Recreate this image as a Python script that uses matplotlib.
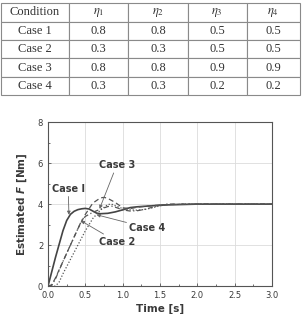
import matplotlib

matplotlib.use("Agg")
import matplotlib.pyplot as plt
from matplotlib.ticker import FormatStrFormatter, MultipleLocator

# --- table data --------------------------------------------------------
TABLE_HEADER = ["Condition", r"$\eta_1$", r"$\eta_2$", r"$\eta_3$", r"$\eta_4$"]
CASES = ["Case 1", "Case 2", "Case 3", "Case 4"]
ETA1 = [0.8, 0.3, 0.8, 0.3]
ETA2 = [0.8, 0.3, 0.8, 0.3]
ETA3 = [0.5, 0.5, 0.9, 0.2]
ETA4 = [0.5, 0.5, 0.9, 0.2]

# --- curve data ---------------------------------------------------------
T1 = [0, 0.05, 0.1, 0.15, 0.2, 0.25, 0.3, 0.35, 0.4, 0.45, 0.5, 0.55, 0.6,
      0.65, 0.7, 0.8, 0.9, 1.0, 1.1, 1.2, 1.4, 1.6, 1.8, 2.0, 2.5, 3.0]
F1 = [0, 0.7, 1.4, 2.05, 2.7, 3.2, 3.5, 3.65, 3.73, 3.77, 3.79, 3.76, 3.66,
      3.56, 3.53, 3.55, 3.62, 3.72, 3.83, 3.87, 3.92, 3.96, 3.98, 4.0, 4.0, 4.0]

T2 = [0, 0.05, 0.1, 0.2, 0.3, 0.4, 0.45, 0.5, 0.6, 0.7, 0.8, 0.85, 0.9,
      1.0, 1.1, 1.2, 1.3, 1.4, 1.5, 1.6, 2.0, 3.0]
F2 = [0, 0.05, 0.35, 1.2, 2.0, 2.8, 3.2, 3.4, 3.6, 3.75, 3.88, 3.9, 3.85,
      3.72, 3.66, 3.68, 3.75, 3.85, 3.95, 4.0, 4.0, 4.0]

T3 = [0, 0.05, 0.1, 0.2, 0.3, 0.4, 0.5, 0.6, 0.7, 0.75, 0.8, 0.9, 1.0,
      1.1, 1.2, 1.4, 1.6, 2.0, 3.0]
F3 = [0, 0.05, 0.4, 1.2, 2.0, 2.8, 3.5, 4.05, 4.3, 4.33, 4.28, 4.08, 3.82,
      3.78, 3.85, 3.93, 3.98, 4.0, 4.0]

T4 = [0, 0.1, 0.15, 0.2, 0.3, 0.4, 0.5, 0.6, 0.65, 0.7, 0.8, 0.85, 0.9,
      1.0, 1.1, 1.2, 1.3, 1.4, 1.5, 1.6, 2.0, 3.0]
F4 = [0, 0, 0.2, 0.6, 1.3, 2.0, 2.7, 3.3, 3.5, 3.7, 3.98, 4.0, 3.92,
      3.78, 3.72, 3.7, 3.74, 3.82, 3.92, 3.98, 4.0, 4.0]

INK = "#3a3a3a"
GRID = "#dcdcdc"

plt.rcParams["mathtext.fontset"] = "stix"

fig = plt.figure(figsize=(3.02, 3.14), dpi=100)

# --- table -------------------------------------------------------------
tax = fig.add_axes([0.003, 0.697, 0.99, 0.293])
tax.axis("off")
rows = [[c, f"{a}", f"{b}", f"{d}", f"{e}"]
        for c, a, b, d, e in zip(CASES, ETA1, ETA2, ETA3, ETA4)]
tbl = tax.table(cellText=rows, colLabels=TABLE_HEADER, cellLoc="center",
                bbox=[0, 0, 1, 1],
                colWidths=[68, 59.5, 59.5, 59.5, 53])
tbl.auto_set_font_size(False)
for (r, c), cell in tbl.get_celld().items():
    cell.set_edgecolor("#8a8a8a")
    cell.set_linewidth(0.8)
    txt = cell.get_text()
    txt.set_fontsize(9)
    txt.set_fontfamily("Liberation Serif")
    txt.set_color("#333333")

# --- response plot -----------------------------------------------------
ax = fig.add_axes([0.159, 0.089, 0.742, 0.522])
ax.plot(T1, F1, color="#444444", lw=1.2, ls="-")
ax.plot(T2, F2, color="#555555", lw=0.9, ls=(0, (4, 2, 1, 2)))
ax.plot(T3, F3, color="#555555", lw=0.9, ls=(0, (4, 2.5)))
ax.plot(T4, F4, color="#555555", lw=0.9, ls=(0, (1, 1.5)))

ax.set_xlim(0, 3.0)
ax.set_ylim(0, 8)
ax.xaxis.set_major_locator(MultipleLocator(0.5))
ax.xaxis.set_minor_locator(MultipleLocator(0.25))
ax.yaxis.set_major_locator(MultipleLocator(2))
ax.yaxis.set_minor_locator(MultipleLocator(1))
ax.xaxis.set_major_formatter(FormatStrFormatter("%.1f"))
ax.grid(True, which="major", color=GRID, lw=0.6)
for s in ax.spines.values():
    s.set_color("#555555")
    s.set_linewidth(0.8)
ax.tick_params(which="both", direction="in", color="#555555", labelsize=6,
               labelcolor=INK, width=0.6)
ax.tick_params(which="major", length=2.5)
ax.tick_params(which="minor", length=1.5)

ax.set_xlabel("Time [s]", fontsize=7.5, fontweight="bold", color=INK, labelpad=3)
ax.set_ylabel(r"Estimated $\mathbfit{F}$ [Nm]", fontsize=7.5, fontweight="bold",
              color=INK, labelpad=6, math_fontfamily="dejavusans")

arrow = {"arrowstyle": "-|>", "color": "#666666", "lw": 0.6,
         "mutation_scale": 5, "shrinkA": 0, "shrinkB": 0}
font = {"fontsize": 7, "fontweight": "bold", "color": INK}
ax.annotate("Case I", xy=(0.28, 3.48), xytext=(0.27, 4.75),
            ha="center", va="center", arrowprops=arrow, **font)
ax.annotate("Case 3", xy=(0.69, 3.77), xytext=(0.92, 5.9),
            ha="center", va="center", arrowprops=arrow, **font)
ax.annotate("Case 4", xy=(0.65, 3.48), xytext=(1.33, 2.84),
            ha="center", va="center", arrowprops=arrow, **font)
ax.annotate("Case 2", xy=(0.44, 3.19), xytext=(0.92, 2.16),
            ha="center", va="center", arrowprops=arrow, **font)

fig.savefig("out.png", dpi=100)
